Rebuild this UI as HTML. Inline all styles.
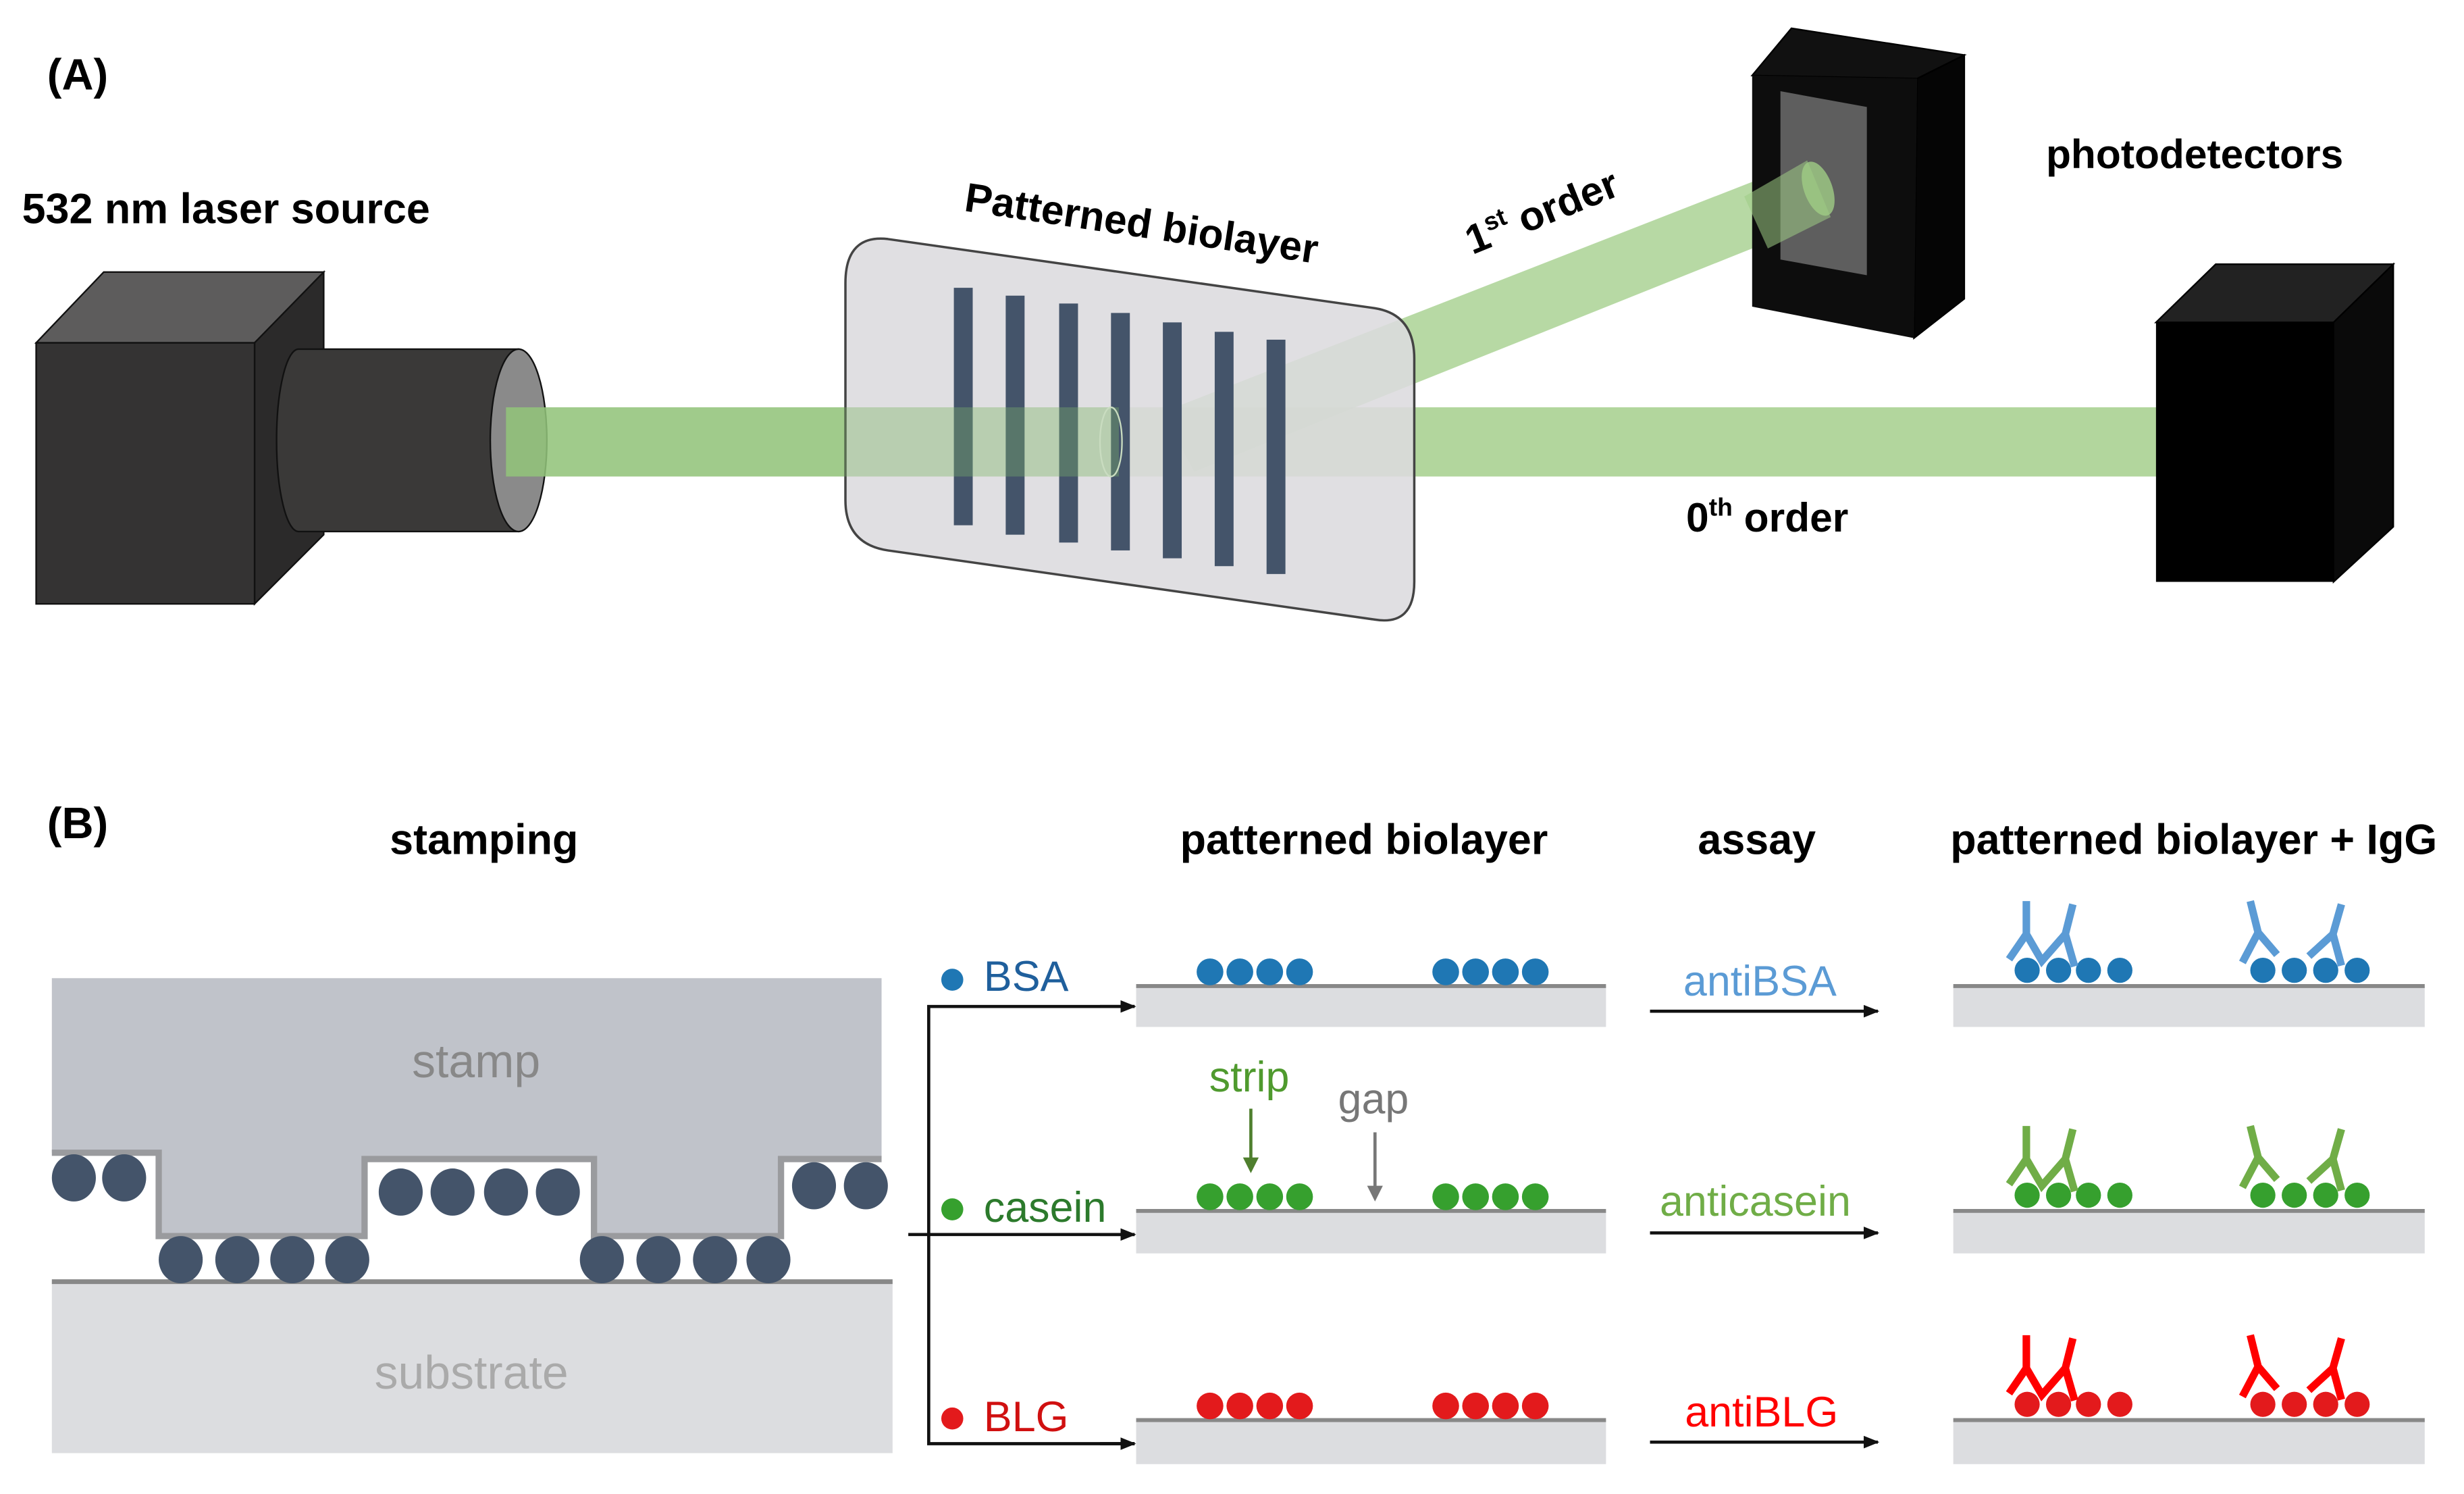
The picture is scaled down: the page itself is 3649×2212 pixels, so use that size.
<!DOCTYPE html>
<html><head><meta charset="utf-8"><style>
html,body{margin:0;padding:0;background:#fff;}
svg{display:block;}
text{font-family:"Liberation Sans",Arial,sans-serif;}
</style></head><body>
<svg width="3649" height="2212" viewBox="0 0 1568 950" preserveAspectRatio="none" xmlns="http://www.w3.org/2000/svg">
<defs>
<marker id="ah" markerWidth="10" markerHeight="8" refX="9" refY="4" orient="auto" markerUnits="userSpaceOnUse">
<path d="M0,0 L10,4 L0,8 Z" fill="#111"/></marker>
</defs>
<!-- Panel A -->
<text x="30" y="57" font-size="28" font-weight="bold">(A)</text>
<text x="14" y="142" font-size="27" font-weight="bold">532 nm laser source</text>
<!-- camera -->
<polygon points="23,218 66,173 206,173 162,218" fill="#5d5c5c" stroke="#111" stroke-width="1"/>
<polygon points="162,218 206,173 206,340 162,384" fill="#2b2a2a" stroke="#111" stroke-width="1"/>
<rect x="23" y="218" width="139" height="166" fill="#343333" stroke="#111" stroke-width="1"/>
<path d="M190,222 L330,222 L330,338 L190,338 A14,58 0 0 1 190,222 Z" fill="#3a3938" stroke="#111" stroke-width="1"/>
<ellipse cx="330" cy="280" rx="18" ry="58" fill="#8a8a8a" stroke="#111" stroke-width="1"/>
<!-- beams -->
<polygon points="740,262 1150,102 1165,138 760,300" fill="#9fcc85" opacity="0.75"/>
<rect x="322" y="259" width="1052" height="44" fill="#9fcc85" opacity="0.8"/>
<!-- slide -->
<path d="M565,152 L875,196 Q900,200 900,228 L900,370 Q900,398 875,394 L565,350 Q538,346 538,318 L538,180 Q538,149 565,152 Z" fill="#dcdbde" fill-opacity="0.88" stroke="#444" stroke-width="1.5"/>
<g fill="#44546a">
<rect x="607" y="183" width="12" height="151"/>
<rect x="640" y="188" width="12" height="152"/>
<rect x="674" y="193" width="12" height="152"/>
<rect x="707" y="199" width="12" height="151"/>
<rect x="740" y="205" width="12" height="150"/>
<rect x="773" y="211" width="12" height="149"/>
<rect x="806" y="216" width="12" height="149"/>
</g>
<rect x="322" y="259" width="390" height="44" fill="#7fb86a" opacity="0.35"/>
<ellipse cx="707" cy="281" rx="7" ry="22" fill="none" stroke="#c9dcc0" stroke-width="1"/>
<text transform="translate(613,134) rotate(8.5)" font-size="26" font-weight="bold">Patterned biolayer</text>
<!-- detector 1 -->
<polygon points="1115,48 1140,18 1250,35 1220,50" fill="#111" stroke="#000"/>
<polygon points="1220,50 1250,35 1250,190 1218,215" fill="#050505" stroke="#000"/>
<polygon points="1115,48 1220,50 1218,215 1115,195" fill="#0d0d0d"/>
<polygon points="1133,58 1188,68 1188,175 1133,165" fill="#5e5e5e"/>
<polygon points="1110,125 1150,102 1165,138 1125,158" fill="#9fcc85" opacity="0.55"/>
<ellipse cx="1157" cy="120" rx="9" ry="18" transform="rotate(-20 1157 120)" fill="#9fcc85" opacity="0.8"/>
<text transform="translate(937,162) rotate(-22)" font-size="26" font-weight="bold">1<tspan font-size="16" dy="-10">st</tspan><tspan dy="10"> order</tspan></text>
<text x="1302" y="107" font-size="26" font-weight="bold">photodetectors</text>
<!-- detector 2 -->
<polygon points="1372,205 1410,168 1523,168 1485,205" fill="#222" stroke="#000"/>
<polygon points="1485,205 1523,168 1523,335 1485,370" fill="#0a0a0a" stroke="#000"/>
<rect x="1372" y="205" width="113" height="165" fill="#000"/>
<text x="1073" y="338" font-size="26" font-weight="bold">0<tspan font-size="16" dy="-10">th</tspan><tspan dy="10"> order</tspan></text>

<!-- Panel B -->
<text x="30" y="533" font-size="28" font-weight="bold">(B)</text>
<g font-size="27" font-weight="bold" text-anchor="middle">
<text x="308" y="543">stamping</text>
<text x="868" y="543">patterned biolayer</text>
<text x="1118" y="543">assay</text>
<text x="1396" y="543">patterned biolayer + IgG</text>
</g>
<!-- stamping -->
<rect x="33" y="815" width="535" height="109" fill="#dcdde0"/>
<line x1="33" y1="815" x2="568" y2="815" stroke="#888" stroke-width="3"/>
<path d="M33,622 L561,622 L561,737 L497,737 L497,786 L378,786 L378,737 L232,737 L232,786 L101,786 L101,733 L33,733 Z" fill="#c0c3ca"/>
<path d="M33,733 L101,733 L101,786 L232,786 L232,737 L378,737 L378,786 L497,786 L497,737 L561,737" fill="none" stroke="#9a9b9e" stroke-width="4"/>
<g fill="#44546a">
<ellipse cx="47" cy="749" rx="14" ry="15"/><ellipse cx="79" cy="749" rx="14" ry="15"/>
<ellipse cx="255" cy="758" rx="14" ry="15"/><ellipse cx="288" cy="758" rx="14" ry="15"/><ellipse cx="322" cy="758" rx="14" ry="15"/><ellipse cx="355" cy="758" rx="14" ry="15"/>
<ellipse cx="518" cy="754" rx="14" ry="15"/><ellipse cx="551" cy="754" rx="14" ry="15"/>
<ellipse cx="115" cy="801" rx="14" ry="15"/><ellipse cx="151" cy="801" rx="14" ry="15"/><ellipse cx="186" cy="801" rx="14" ry="15"/><ellipse cx="221" cy="801" rx="14" ry="15"/>
<ellipse cx="383" cy="801" rx="14" ry="15"/><ellipse cx="419" cy="801" rx="14" ry="15"/><ellipse cx="455" cy="801" rx="14" ry="15"/><ellipse cx="489" cy="801" rx="14" ry="15"/>
</g>
<text x="303" y="685" font-size="30" fill="#888" text-anchor="middle">stamp</text>
<text x="300" y="883" font-size="30" fill="#aaa" text-anchor="middle">substrate</text>
<!-- connectors -->
<g stroke="#111" stroke-width="2" fill="none">
<polyline points="722,640 591,640 591,918 722,918" />
<line x1="578" y1="785" x2="722" y2="785"/>
</g>
<g stroke="#111" stroke-width="2">
<line x1="700" y1="640" x2="722" y2="640" marker-end="url(#ah)"/>
<line x1="700" y1="785" x2="722" y2="785" marker-end="url(#ah)"/>
<line x1="700" y1="918" x2="722" y2="918" marker-end="url(#ah)"/>
<line x1="1050" y1="643" x2="1195" y2="643" marker-end="url(#ah)"/>
<line x1="1050" y1="784" x2="1195" y2="784" marker-end="url(#ah)"/>
<line x1="1050" y1="917" x2="1195" y2="917" marker-end="url(#ah)"/>
</g>
<circle cx="606" cy="623" r="7" fill="#1f77b4"/>
<text x="626" y="630" font-size="27" fill="#1f5f9c">BSA</text>
<circle cx="606" cy="769" r="7" fill="#36a02e"/>
<text x="626" y="777" font-size="27" fill="#2c7a2c">casein</text>
<circle cx="606" cy="902" r="7" fill="#e31a1c"/>
<text x="626" y="910" font-size="27" fill="#d01010">BLG</text>
<!-- biolayer substrates -->
<g fill="#dcdde0">
<rect x="723" y="627" width="299" height="26"/><rect x="723" y="770" width="299" height="27"/><rect x="723" y="903" width="299" height="28"/>
<rect x="1243" y="627" width="300" height="26"/><rect x="1243" y="770" width="300" height="27"/><rect x="1243" y="903" width="300" height="28"/>
</g>
<g stroke="#888" stroke-width="2.5">
<line x1="723" y1="627" x2="1022" y2="627"/><line x1="723" y1="770" x2="1022" y2="770"/><line x1="723" y1="903" x2="1022" y2="903"/>
<line x1="1243" y1="627" x2="1543" y2="627"/><line x1="1243" y1="770" x2="1543" y2="770"/><line x1="1243" y1="903" x2="1543" y2="903"/>
</g>
<g fill="#1f77b4"><circle cx="770" cy="618" r="8.5"/><circle cx="789" cy="618" r="8.5"/><circle cx="808" cy="618" r="8.5"/><circle cx="827" cy="618" r="8.5"/><circle cx="920" cy="618" r="8.5"/><circle cx="939" cy="618" r="8.5"/><circle cx="958" cy="618" r="8.5"/><circle cx="977" cy="618" r="8.5"/></g>
<g fill="#36a02e"><circle cx="770" cy="761" r="8.5"/><circle cx="789" cy="761" r="8.5"/><circle cx="808" cy="761" r="8.5"/><circle cx="827" cy="761" r="8.5"/><circle cx="920" cy="761" r="8.5"/><circle cx="939" cy="761" r="8.5"/><circle cx="958" cy="761" r="8.5"/><circle cx="977" cy="761" r="8.5"/></g>
<g fill="#e31a1c"><circle cx="770" cy="894" r="8.5"/><circle cx="789" cy="894" r="8.5"/><circle cx="808" cy="894" r="8.5"/><circle cx="827" cy="894" r="8.5"/><circle cx="920" cy="894" r="8.5"/><circle cx="939" cy="894" r="8.5"/><circle cx="958" cy="894" r="8.5"/><circle cx="977" cy="894" r="8.5"/></g>
<text x="795" y="694" font-size="27" fill="#4f9a2e" text-anchor="middle">strip</text>
<line x1="796" y1="705" x2="796" y2="744" stroke="#4f7f2e" stroke-width="2"/>
<path d="M791,736 L796,746 L801,736 Z" fill="#4f7f2e"/>
<text x="874" y="708" font-size="27" fill="#777" text-anchor="middle">gap</text>
<line x1="875" y1="720" x2="875" y2="762" stroke="#777" stroke-width="2"/>
<path d="M870,754 L875,764 L880,754 Z" fill="#777"/>
<text x="1120" y="633" font-size="27" fill="#5b9bd5" text-anchor="middle">antiBSA</text>
<text x="1117" y="773" font-size="27" fill="#70ad47" text-anchor="middle">anticasein</text>
<text x="1121" y="907" font-size="27" fill="#ff0000" text-anchor="middle">antiBLG</text>
<!-- IgG panel dots -->
<g fill="#1f77b4"><circle cx="1290" cy="617" r="8"/><circle cx="1310" cy="617" r="8"/><circle cx="1329" cy="617" r="8"/><circle cx="1349" cy="617" r="8"/><circle cx="1440" cy="617" r="8"/><circle cx="1460" cy="617" r="8"/><circle cx="1480" cy="617" r="8"/><circle cx="1500" cy="617" r="8"/></g>
<g fill="#36a02e"><circle cx="1290" cy="760" r="8"/><circle cx="1310" cy="760" r="8"/><circle cx="1329" cy="760" r="8"/><circle cx="1349" cy="760" r="8"/><circle cx="1440" cy="760" r="8"/><circle cx="1460" cy="760" r="8"/><circle cx="1480" cy="760" r="8"/><circle cx="1500" cy="760" r="8"/></g>
<g fill="#e31a1c"><circle cx="1290" cy="893" r="8"/><circle cx="1310" cy="893" r="8"/><circle cx="1329" cy="893" r="8"/><circle cx="1349" cy="893" r="8"/><circle cx="1440" cy="893" r="8"/><circle cx="1460" cy="893" r="8"/><circle cx="1480" cy="893" r="8"/><circle cx="1500" cy="893" r="8"/></g>
<!-- antibodies -->
<g fill="none" stroke-width="4.8">
<g stroke="#5b9bd5" transform="translate(0,627)">
<path d="M1289.5,-54 L1289.5,-33 L1278.5,-17 M1289.5,-33 L1299.4,-16 L1314.3,-33 L1319.1,-52 M1314.3,-33 L1320.2,-12.5"/>
<path d="M1432,-54 L1437,-34 L1427,-15 M1437,-34 L1449,-20 M1490,-52 L1484.6,-33 L1469.3,-19 M1484.6,-33 L1490,-13"/>
</g>
<g stroke="#70ad47" transform="translate(0,770)">
<path d="M1289.5,-54 L1289.5,-33 L1278.5,-17 M1289.5,-33 L1299.4,-16 L1314.3,-33 L1319.1,-52 M1314.3,-33 L1320.2,-12.5"/>
<path d="M1432,-54 L1437,-34 L1427,-15 M1437,-34 L1449,-20 M1490,-52 L1484.6,-33 L1469.3,-19 M1484.6,-33 L1490,-13"/>
</g>
<g stroke="#ff0000" transform="translate(0,903)">
<path d="M1289.5,-54 L1289.5,-33 L1278.5,-17 M1289.5,-33 L1299.4,-16 L1314.3,-33 L1319.1,-52 M1314.3,-33 L1320.2,-12.5"/>
<path d="M1432,-54 L1437,-34 L1427,-15 M1437,-34 L1449,-20 M1490,-52 L1484.6,-33 L1469.3,-19 M1484.6,-33 L1490,-13"/>
</g>
</g>
</svg>
</body></html>
